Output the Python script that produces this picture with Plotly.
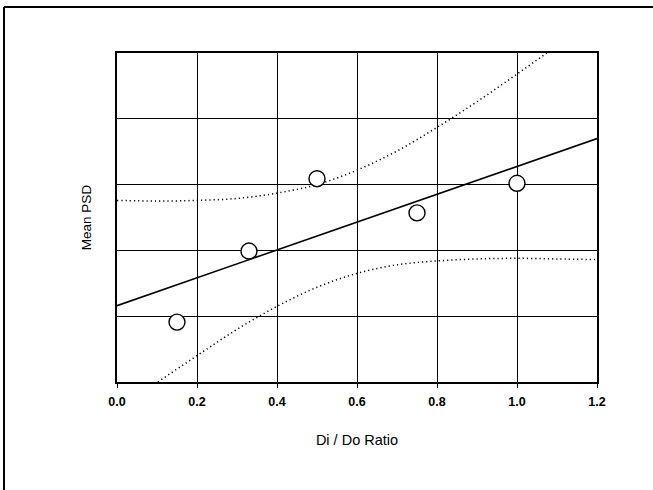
import plotly.graph_objects as go

# Data
ratio = [0.15, 0.33, 0.50, 0.75, 1.00]
mean_psd = [0.91, 1.99, 3.09, 2.57, 3.02]

fit_x = [0.0, 1.2]
fit_y = [1.16, 3.70]

band_x = [0.0, 0.1, 0.2, 0.3, 0.4, 0.5, 0.6, 0.7, 0.8, 0.9, 1.0, 1.1, 1.2]
band_upper = [2.76, 2.75, 2.76, 2.79, 2.87, 3.00, 3.22, 3.51, 3.87, 4.26, 4.68, 5.11, 5.55]
band_lower = [-0.45, -0.01, 0.40, 0.80, 1.15, 1.44, 1.65, 1.78, 1.84, 1.87, 1.88, 1.87, 1.86]

x_ticks = [0.0, 0.2, 0.4, 0.6, 0.8, 1.0, 1.2]
x_tick_labels = ["0.0", "0.2", "0.4", "0.6", "0.8", "1.0", "1.2"]

fig = go.Figure()

for yb in (band_upper, band_lower):
    fig.add_trace(go.Scatter(x=band_x, y=yb, mode="lines",
                             line=dict(color="black", width=1.5, dash="1.2px,3px", shape="spline"),
                             hoverinfo="skip", showlegend=False))

fig.add_trace(go.Scatter(x=fit_x, y=fit_y, mode="lines",
                         line=dict(color="black", width=1.6), showlegend=False))

fig.add_trace(go.Scatter(x=ratio, y=mean_psd, mode="markers",
                         marker=dict(symbol="circle", size=16, color="white",
                                     line=dict(color="black", width=1.4)),
                         showlegend=False))

L, R, T, B = 117, 56, 53, 108
W, H = 653, 490
pw = W - L - R
ph = H - T - B

def px(xp):
    return (xp - L) / pw

def py(yp):
    return (H - B - yp) / ph

fig.update_layout(
    width=W, height=H,
    margin=dict(l=L, r=R, t=T, b=B, pad=0),
    paper_bgcolor="white", plot_bgcolor="white",
    font=dict(family="Liberation Sans, Arial, sans-serif", color="black"),
    xaxis=dict(range=[0, 1.2], tickvals=x_ticks, ticktext=x_tick_labels,
               showgrid=True, gridcolor="black", gridwidth=1,
               zeroline=False, showline=True, linecolor="black", linewidth=1.5,
               mirror=True, ticks="outside", ticklen=4, tickcolor="black",
               ticklabelstandoff=3,
               tickfont=dict(size=12.5, family="Liberation Sans, Arial", weight="bold"),
               title=dict(text="Di / Do Ratio", font=dict(size=14.5), standoff=27)),
    yaxis=dict(range=[0, 5], tickvals=[0, 1, 2, 3, 4, 5], showticklabels=False,
               showgrid=True, gridcolor="black", gridwidth=1,
               zeroline=False, showline=True, linecolor="black", linewidth=1.5,
               mirror=True, ticks="",
               title=dict(text="Mean PSD", font=dict(size=13.5), standoff=21)),
    shapes=[
        dict(type="line", xref="paper", yref="paper",
             x0=px(4), x1=px(4), y0=py(7), y1=py(495),
             line=dict(color="black", width=2)),
        dict(type="line", xref="paper", yref="paper",
             x0=px(4), x1=px(660), y0=py(7), y1=py(7),
             line=dict(color="black", width=2)),
    ],
)

fig.write_html("out.html", config={"displayModeBar": False},
               post_script="document.body.style.margin='0px';")
